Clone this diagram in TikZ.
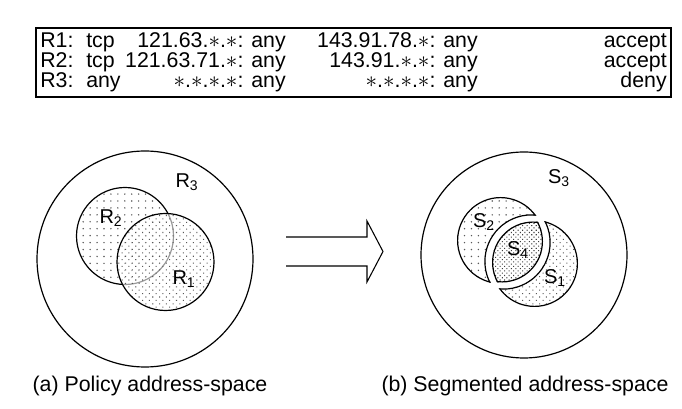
\documentclass[tikz,border=0pt]{standalone}
\usepackage{fontspec}
\setmainfont{Liberation Sans}
\usetikzlibrary{patterns.meta}
\begin{document}
\begin{tikzpicture}[x=0.75pt,y=-0.75pt,
  txt/.style={font=\fontsize{16}{18}\selectfont, inner sep=0pt, text height=0.72em, text depth=0.2em},
  cell/.style={txt, anchor=base west},
  cellr/.style={txt, anchor=base east},
  lbl/.style={font=\fontsize{15}{18}\selectfont, inner sep=0pt},
  outline/.style={draw=black, line width=0.9pt},
  inner/.style={draw=black, line width=1.8pt},
  sparse/.style={pattern={Dots[distance=5.2pt, radius=0.6pt]}, pattern color=black!65},
  medium/.style={pattern={Dots[distance=3.6pt, radius=0.55pt, angle=45]}, pattern color=black!65},
  dense/.style={pattern={Dots[distance=2.4pt, radius=0.55pt, angle=45]}, pattern color=black!75},
]
\useasboundingbox (0,0) rectangle (682,409);

% ---------- rule table ----------
\draw[line width=0.8pt] (36,28) rectangle (671,97);
\foreach \row/\yy/\proto/\src/\dst/\act in {
  1/48/tcp/{121.63.$\ast$.$\ast$: any}/{143.91.78.$\ast$: any}/accept,
  2/68/tcp/{121.63.71.$\ast$: any}/{143.91.$\ast$.$\ast$: any}/accept,
  3/88/any/{$\ast$.$\ast$.$\ast$.$\ast$: any}/{$\ast$.$\ast$.$\ast$.$\ast$: any}/deny}{
  \node[cell]  (r\row name)  at (40,\yy)  {R\row:};
  \node[cell]  (r\row proto) at (86,\yy)  {\proto};
  \node[cellr] (r\row src)   at (286,\yy) {\src};
  \node[cellr] (r\row dst)   at (478,\yy) {\dst};
  \node[cellr] (r\row act)   at (667,\yy) {\act};
}

% ---------- (a) policy address-space ----------
\draw[outline] (145,259) circle[radius=108*0.75pt];
\fill[white] (125,236) circle[radius=48.5*0.75pt];
\path[sparse] (125,236) circle[radius=48.5*0.75pt];
\draw[outline] (125,236) circle[radius=48.5*0.75pt];
\fill[white, fill opacity=0.6] (165.5,262) circle[radius=48.5*0.75pt];
\path[medium] (165.5,262) circle[radius=48.5*0.75pt];
\draw[outline] (165.5,262) circle[radius=48.5*0.75pt];
\node[lbl] (labR3) at (187,182) {R\textsubscript{3}};
\node[lbl] (labR2) at (111,218) {R\textsubscript{2}};
\node[lbl] (labR1) at (184,279) {R\textsubscript{1}};

% ---------- block arrow ----------
\draw[line width=0.8pt, line join=miter]
  (286,237) -- (367,237) -- (367,221) -- (383,251.5)
  -- (367,282) -- (367,266) -- (286,266);

% ---------- (b) segmented address-space ----------
\draw[outline] (524,255) circle[radius=103*0.75pt];
% segment S2: first disc minus the widened second disc
\begin{scope}[shift={(-1.5,-1)}, even odd rule]
  \clip (502,241.5) circle[radius=43.5*0.75pt];
  \clip (420,150) rectangle (630,360) (533,262.5) circle[radius=46*0.75pt];
  \fill[white] (420,150) rectangle (630,360);
  \path[sparse] (420,150) rectangle (630,360);
  \draw[inner] (502,241.5) circle[radius=43.5*0.75pt];
  \draw[inner] (533,262.5) circle[radius=46*0.75pt];
\end{scope}
% segment S1: second disc minus the widened first disc
\begin{scope}[shift={(1.5,1)}, even odd rule]
  \clip (533,262.5) circle[radius=43.5*0.75pt];
  \clip (420,150) rectangle (630,360) (502,241.5) circle[radius=46*0.75pt];
  \fill[white] (420,150) rectangle (630,360);
  \path[medium] (420,150) rectangle (630,360);
  \draw[inner] (533,262.5) circle[radius=43.5*0.75pt];
  \draw[inner] (502,241.5) circle[radius=46*0.75pt];
\end{scope}
% segment S4: overlap of the two narrowed discs
\begin{scope}
  \clip (502,241.5) circle[radius=41*0.75pt];
  \clip (533,262.5) circle[radius=41*0.75pt];
  \fill[white] (420,150) rectangle (630,360);
  \path[dense] (420,150) rectangle (630,360);
  \draw[inner] (502,241.5) circle[radius=41*0.75pt];
  \draw[inner] (533,262.5) circle[radius=41*0.75pt];
\end{scope}
\node[lbl] (labS3) at (559,178) {S\textsubscript{3}};
\node[lbl] (labS2) at (484,222) {S\textsubscript{2}};
\node[lbl] (labS4) at (518,250) {S\textsubscript{4}};
\node[lbl] (labS1) at (555,278) {S\textsubscript{1}};

% ---------- captions ----------
\node[txt] (capA) at (150,388) {(a) Policy address-space};
\node[txt] (capB) at (525,388) {(b) Segmented address-space};
\end{tikzpicture}
\end{document}
